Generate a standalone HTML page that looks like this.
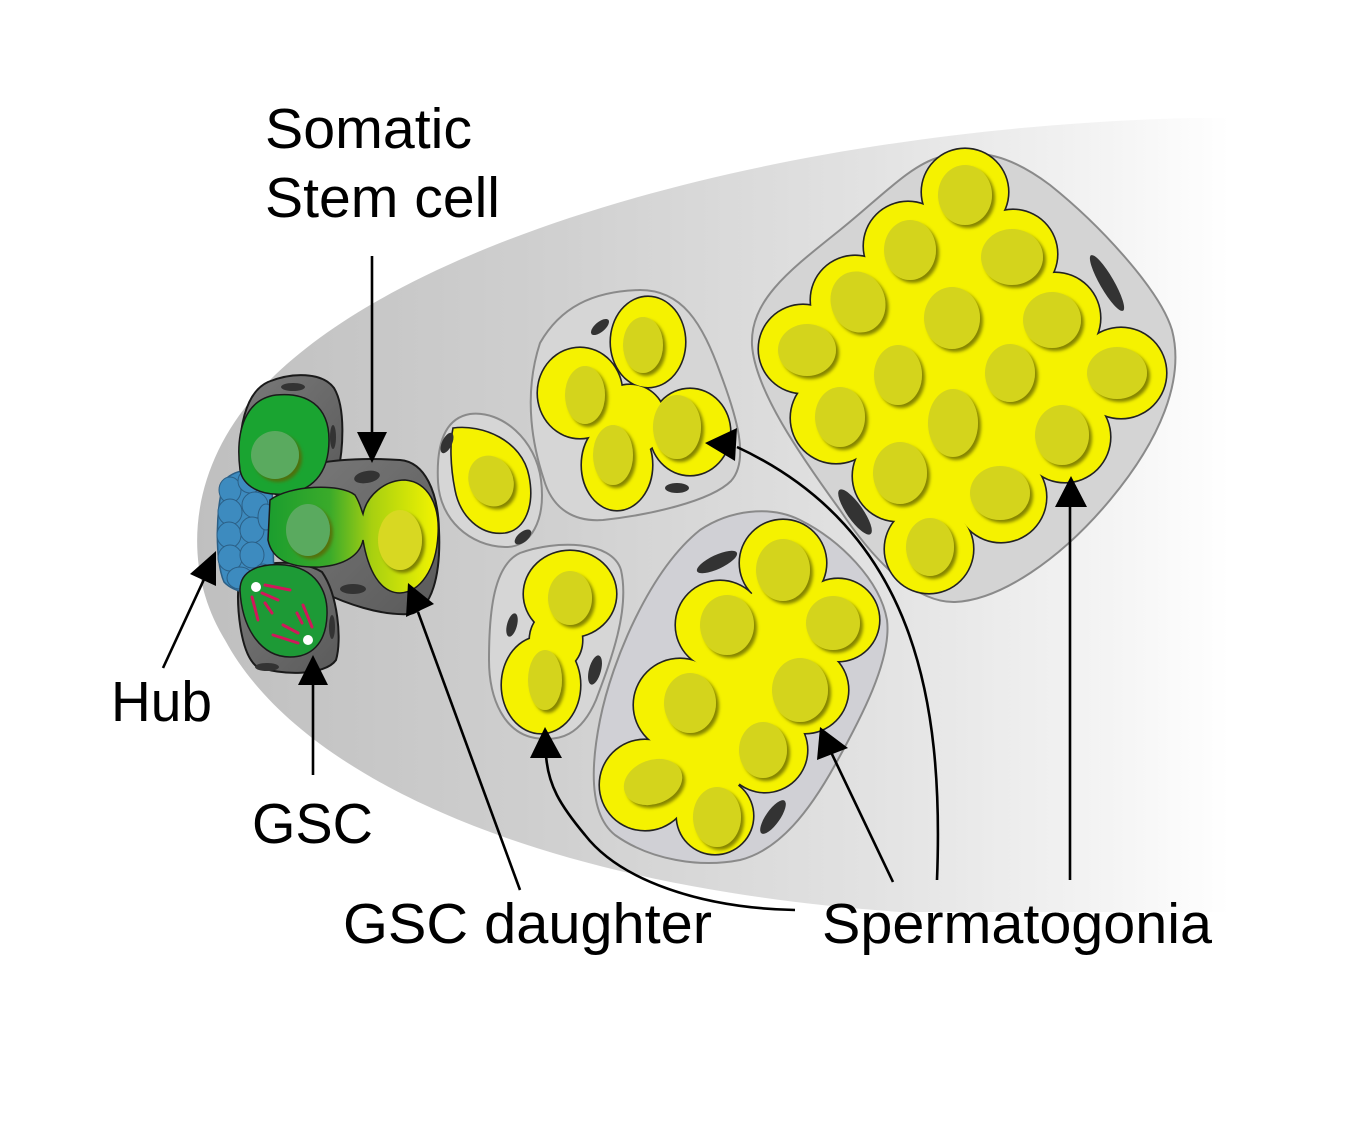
<!DOCTYPE html>
<html>
<head>
<meta charset="utf-8">
<style>
html,body{margin:0;padding:0;background:#fff;}
body{width:1357px;height:1129px;overflow:hidden;}
svg{display:block;}
text{font-family:"Liberation Sans",Arial,sans-serif;font-size:57px;fill:#000;}
</style>
</head>
<body>
<svg xmlns="http://www.w3.org/2000/svg" width="1357" height="1129" viewBox="0 0 1357 1129">
<defs>
 <linearGradient id="bg" gradientUnits="userSpaceOnUse" x1="195" y1="0" x2="1230" y2="0">
  <stop offset="0" stop-color="#bfbfbf"/>
  <stop offset="0.35" stop-color="#d0d0d0"/>
  <stop offset="0.65" stop-color="#e2e2e2"/>
  <stop offset="0.87" stop-color="#f3f3f3"/>
  <stop offset="1" stop-color="#ffffff"/>
 </linearGradient>
 <linearGradient id="gy" gradientUnits="userSpaceOnUse" x1="270" y1="0" x2="440" y2="0">
  <stop offset="0" stop-color="#1c9e2e"/>
  <stop offset="0.35" stop-color="#3aaa2a"/>
  <stop offset="0.6" stop-color="#a8d010"/>
  <stop offset="1" stop-color="#f5f500"/>
 </linearGradient>
 <linearGradient id="dg" x1="0" y1="0" x2="1" y2="1">
  <stop offset="0" stop-color="#7a7a7a"/>
  <stop offset="1" stop-color="#5a5a5a"/>
 </linearGradient>
 <filter id="sh" x="-30%" y="-30%" width="170%" height="170%">
  <feDropShadow dx="3" dy="3" stdDeviation="1.5" flood-color="#5e5e00" flood-opacity="0.75"/>
 </filter>
</defs>

<!-- background testis -->
<path d="M 1357,118 L 1190,118 C 800,128 420,230 270,380 C 192,455 176,560 225,640 C 295,770 520,885 900,912 L 1357,912 Z" fill="url(#bg)"/>

<!-- cyst outers -->
<g stroke="#8a8a8a" stroke-width="2">
 <path fill="#d6d6d6" d="M 470,414 C 502,410 536,440 541,480 C 546,520 531,548 505,547 C 470,546 440,520 438,482 C 436,442 446,418 470,414 Z"/>
 <path fill="#d6d6d6" d="M 540,343 C 560,308 592,291 640,290 C 682,290 702,322 721,375 C 736,415 750,460 731,481 C 711,501 650,515 603,520 C 575,522 553,510 544,480 C 534,450 522,398 540,343 Z"/>
 <path fill="#d6d6d6" d="M 520,553 C 555,540 612,540 621,570 C 630,610 611,660 596,700 C 581,735 560,742 535,738 C 505,733 489,700 489,660 C 489,610 494,565 520,553 Z"/>
 <path fill="#d0d0d5" d="M 700,530 C 730,510 770,505 800,520 C 840,540 880,580 887,620 C 892,660 860,720 835,765 C 810,810 780,850 740,860 C 700,868 650,860 615,835 C 590,815 590,770 600,720 C 612,660 650,570 700,530 Z"/>
 <path fill="#d4d4d4" d="M 940,157 C 980,148 1010,155 1050,185 C 1100,225 1160,290 1172,330 C 1185,380 1160,440 1110,500 C 1060,560 1000,600 955,602 C 920,603 880,570 840,510 C 800,455 755,390 752,345 C 750,300 790,270 840,230 C 880,198 910,165 940,157 Z"/>
</g>

<!-- 1-cell yellow -->
<path fill="#f5f200" stroke="#222" stroke-width="1.6" d="M 453,428 C 482,424 522,440 529,476 C 535,506 525,530 505,533 C 480,536 460,516 455,490 C 450,465 450,442 453,428 Z"/>

<!-- 4-cell yellow: stroked then fill -->
<g fill="#f5f200" stroke="#222" stroke-width="3.2">
 <ellipse cx="648" cy="342" rx="37" ry="45"/>
 <ellipse cx="580" cy="393" rx="42" ry="45"/>
 <ellipse cx="690" cy="432" rx="40" ry="43"/>
 <ellipse cx="617" cy="465" rx="35" ry="45"/>
 <circle cx="630" cy="420" r="35"/>
</g>
<g fill="#f5f200">
 <ellipse cx="648" cy="342" rx="37" ry="45"/>
 <ellipse cx="580" cy="393" rx="42" ry="45"/>
 <ellipse cx="690" cy="432" rx="40" ry="43"/>
 <ellipse cx="617" cy="465" rx="35" ry="45"/>
 <circle cx="630" cy="420" r="35"/>
</g>

<!-- 2-cell yellow -->
<g fill="#f5f200" stroke="#222" stroke-width="3.2">
 <ellipse cx="570" cy="594" rx="46" ry="43"/>
 <ellipse cx="541" cy="685" rx="39" ry="48"/>
 <ellipse cx="556" cy="640" rx="26" ry="30"/>
</g>
<g fill="#f5f200">
 <ellipse cx="570" cy="594" rx="46" ry="43"/>
 <ellipse cx="541" cy="685" rx="39" ry="48"/>
 <ellipse cx="556" cy="640" rx="26" ry="30"/>
</g>

<!-- 8-cell yellow -->
<g fill="#f5f200" stroke="#222" stroke-width="3.2">
 <circle cx="783" cy="563" r="43"/>
 <circle cx="838" cy="620" r="41"/>
 <circle cx="805" cy="690" r="43"/>
 <circle cx="765" cy="750" r="42"/>
 <circle cx="715" cy="816" r="38"/>
 <circle cx="645" cy="785" r="45"/>
 <circle cx="680" cy="705" r="46"/>
 <circle cx="720" cy="625" r="44"/>
</g>
<g fill="#f5f200">
 <circle cx="783" cy="563" r="43"/>
 <circle cx="838" cy="620" r="41"/>
 <circle cx="805" cy="690" r="43"/>
 <circle cx="765" cy="750" r="42"/>
 <circle cx="715" cy="816" r="38"/>
 <circle cx="645" cy="785" r="45"/>
 <circle cx="680" cy="705" r="46"/>
 <circle cx="720" cy="625" r="44"/>
 <polygon points="783,563 838,620 805,690 765,750 715,816 645,785 680,705 720,625"/>
</g>

<!-- 16-cell yellow -->
<g fill="#f5f200" stroke="#222" stroke-width="3.2">
 <circle cx="965" cy="192" r="43"/>
 <circle cx="1013" cy="254" r="44"/>
 <circle cx="1055" cy="318" r="45"/>
 <circle cx="1121" cy="373" r="45"/>
 <circle cx="1065" cy="437" r="45"/>
 <circle cx="1001" cy="497" r="45"/>
 <circle cx="929" cy="549" r="44"/>
 <circle cx="898" cy="476" r="45"/>
 <circle cx="836" cy="418" r="45"/>
 <circle cx="803" cy="349" r="44"/>
 <circle cx="855" cy="300" r="44"/>
 <circle cx="908" cy="246" r="44"/>
</g>
<g fill="#f5f200">
 <circle cx="965" cy="192" r="43"/>
 <circle cx="1013" cy="254" r="44"/>
 <circle cx="1055" cy="318" r="45"/>
 <circle cx="1121" cy="373" r="45"/>
 <circle cx="1065" cy="437" r="45"/>
 <circle cx="1001" cy="497" r="45"/>
 <circle cx="929" cy="549" r="44"/>
 <circle cx="898" cy="476" r="45"/>
 <circle cx="836" cy="418" r="45"/>
 <circle cx="803" cy="349" r="44"/>
 <circle cx="855" cy="300" r="44"/>
 <circle cx="908" cy="246" r="44"/>
 <polygon points="965,192 1013,254 1055,318 1121,373 1065,437 1001,497 929,549 898,476 836,418 803,349 855,300 908,246"/>
</g>

<!-- yellow nuclei -->
<g fill="#d4d41c" filter="url(#sh)">
 <ellipse cx="491" cy="481" rx="22" ry="26" transform="rotate(-25 491 481)"/>
 <ellipse cx="643" cy="345" rx="20" ry="28"/>
 <ellipse cx="585" cy="395" rx="20" ry="29"/>
 <ellipse cx="677" cy="427" rx="24" ry="32"/>
 <ellipse cx="613" cy="455" rx="20" ry="30"/>
 <ellipse cx="570" cy="598" rx="22" ry="27"/>
 <ellipse cx="545" cy="680" rx="17" ry="30"/>
 <ellipse cx="783" cy="570" rx="27" ry="31"/>
 <ellipse cx="727" cy="625" rx="27" ry="30"/>
 <ellipse cx="833" cy="623" rx="27" ry="27"/>
 <ellipse cx="690" cy="703" rx="26" ry="30"/>
 <ellipse cx="800" cy="690" rx="28" ry="32"/>
 <ellipse cx="763" cy="750" rx="24" ry="28"/>
 <ellipse cx="653" cy="782" rx="30" ry="22" transform="rotate(-20 653 782)"/>
 <ellipse cx="717" cy="817" rx="24" ry="30"/>
 <ellipse cx="965" cy="195" rx="27" ry="30"/>
 <ellipse cx="910" cy="250" rx="26" ry="30"/>
 <ellipse cx="1012" cy="257" rx="31" ry="28"/>
 <ellipse cx="858" cy="302" rx="27" ry="31" transform="rotate(-20 858 302)"/>
 <ellipse cx="952" cy="318" rx="28" ry="31"/>
 <ellipse cx="1052" cy="320" rx="29" ry="28"/>
 <ellipse cx="807" cy="350" rx="29" ry="26"/>
 <ellipse cx="898" cy="375" rx="24" ry="30"/>
 <ellipse cx="1010" cy="373" rx="25" ry="29"/>
 <ellipse cx="1117" cy="373" rx="30" ry="26"/>
 <ellipse cx="840" cy="417" rx="25" ry="30"/>
 <ellipse cx="953" cy="423" rx="25" ry="34"/>
 <ellipse cx="1062" cy="435" rx="27" ry="30"/>
 <ellipse cx="900" cy="473" rx="27" ry="31"/>
 <ellipse cx="1000" cy="493" rx="30" ry="27"/>
 <ellipse cx="930" cy="547" rx="24" ry="29"/>
</g>

<!-- somatic cyst cell nuclei (dark spots) -->
<g fill="#333">
 <ellipse cx="1107" cy="283" rx="7" ry="32" transform="rotate(-30 1107 283)"/>
 <ellipse cx="855" cy="512" rx="8" ry="27" transform="rotate(-35 855 512)"/>
 <ellipse cx="717" cy="562" rx="22" ry="7" transform="rotate(-25 717 562)"/>
 <ellipse cx="773" cy="817" rx="7" ry="20" transform="rotate(35 773 817)"/>
 <ellipse cx="512" cy="625" rx="5" ry="12" transform="rotate(15 512 625)"/>
 <ellipse cx="595" cy="670" rx="6" ry="15" transform="rotate(15 595 670)"/>
 <ellipse cx="447" cy="443" rx="5" ry="11" transform="rotate(25 447 443)"/>
 <ellipse cx="523" cy="537" rx="10" ry="5" transform="rotate(-40 523 537)"/>
 <ellipse cx="600" cy="327" rx="11" ry="5" transform="rotate(-40 600 327)"/>
 <ellipse cx="677" cy="488" rx="12" ry="5"/>
</g>

<!-- ===== Niche ===== -->
<g fill="url(#dg)" stroke="#1a1a1a" stroke-width="2">
 <path d="M 242,472 C 236,430 246,392 268,382 C 292,372 322,372 334,388 C 346,408 343,450 338,472 C 320,485 300,495 280,497 Z"/>
 <path d="M 300,468 C 320,461 355,457 400,460 C 425,462 438,492 439,530 C 441,575 432,610 410,614 C 380,616 345,603 322,592 C 300,580 285,560 285,520 Z"/>
 <path d="M 239,578 C 250,560 300,558 322,572 C 338,595 342,640 336,660 C 325,676 280,676 256,666 C 240,652 236,605 239,578 Z"/>
</g>
<g fill="#333">
 <ellipse cx="293" cy="387" rx="12" ry="4"/>
 <ellipse cx="333" cy="437" rx="3" ry="12"/>
 <ellipse cx="367" cy="477" rx="13" ry="6" transform="rotate(-10 367 477)"/>
 <ellipse cx="353" cy="589" rx="13" ry="5"/>
 <ellipse cx="267" cy="667" rx="12" ry="4"/>
 <ellipse cx="332" cy="627" rx="3" ry="12"/>
</g>

<!-- hub -->
<path d="M 225,480 C 235,468 262,466 272,478 L 274,590 C 260,596 235,594 224,582 C 214,560 216,500 225,480 Z" fill="#3d8bbf" stroke="#2b5f86" stroke-width="1.5"/>
<g fill="#3d8bbf" stroke="#2b5f86" stroke-width="1">
 <ellipse cx="230" cy="490" rx="11" ry="13"/>
 <ellipse cx="250" cy="481" rx="12" ry="12"/>
 <ellipse cx="230" cy="512" rx="12" ry="13"/>
 <ellipse cx="255" cy="505" rx="13" ry="13"/>
 <ellipse cx="229" cy="535" rx="12" ry="13"/>
 <ellipse cx="252" cy="530" rx="12" ry="13"/>
 <ellipse cx="266" cy="517" rx="8" ry="13"/>
 <ellipse cx="230" cy="558" rx="12" ry="13"/>
 <ellipse cx="252" cy="555" rx="12" ry="13"/>
 <ellipse cx="240" cy="578" rx="13" ry="11"/>
 <ellipse cx="263" cy="575" rx="9" ry="11"/>
</g>

<!-- green cells -->
<path d="M 240,470 C 235,430 246,399 276,395 C 306,392 329,405 329,440 C 329,476 310,491 285,494 C 260,496 243,486 240,470 Z" fill="#1aa431" stroke="#1a1a1a" stroke-width="1.5"/>
<path d="M 270,500 C 290,485 340,483 355,495 C 360,503 361,509 363,514 C 367,495 385,480 405,480 C 428,482 440,505 438,535 C 436,570 420,592 400,593 C 380,593 368,570 363,540 C 360,555 345,565 320,567 C 290,568 272,560 268,540 Z" fill="url(#gy)" stroke="#1a1a1a" stroke-width="1.5"/>
<path d="M 240,590 C 240,570 260,563 285,565 C 315,568 328,590 327,615 C 326,645 310,657 290,657 C 262,657 242,630 240,590 Z" fill="#1d9a36" stroke="#1a1a1a" stroke-width="1.5"/>

<g filter="url(#sh)">
 <ellipse cx="275" cy="455" rx="24" ry="24" fill="#5aaa5e"/>
 <ellipse cx="308" cy="530" rx="22" ry="26" fill="#5aaa5e"/>
 <ellipse cx="400" cy="540" rx="22" ry="30" fill="#d8d820"/>
</g>

<!-- spindle -->
<g stroke="#d0185a" stroke-width="3" stroke-linecap="round" fill="none">
 <path d="M 265,585 L 290,590"/>
 <path d="M 262,593 L 278,600"/>
 <path d="M 252,597 L 258,620"/>
 <path d="M 265,603 L 272,613"/>
 <path d="M 303,605 L 312,627"/>
 <path d="M 297,613 L 302,623"/>
 <path d="M 283,625 L 298,633"/>
 <path d="M 273,635 L 298,643"/>
</g>
<circle cx="256" cy="587" r="5" fill="#fff"/>
<circle cx="308" cy="640" r="5" fill="#fff"/>

<!-- ===== Arrows ===== -->
<g stroke="#000" stroke-width="2.6" fill="none">
 <line x1="372" y1="256" x2="372" y2="436"/>
 <line x1="163" y1="668" x2="206" y2="575"/>
 <line x1="313" y1="775" x2="313" y2="683"/>
 <line x1="520" y1="890" x2="418" y2="612"/>
 <path d="M 795,910 C 700,908 620,880 585,835 C 560,805 548,785 546,755"/>
 <line x1="893" y1="882" x2="830" y2="750"/>
 <path d="M 937,880 C 944,700 915,530 737,447"/>
 <line x1="1070" y1="880" x2="1070" y2="505"/>
</g>
<g fill="#000">
 <polygon points="357,432 387,432 372,463"/>
 <polygon points="216,551 216,586 190,574"/>
 <polygon points="298,685 328,685 313,655"/>
 <polygon points="408,583 434,604 406,617"/>
 <polygon points="530,758 562,758 545,727"/>
 <polygon points="820,727 848,748 817,760"/>
 <polygon points="705,443 737,428 735,461"/>
 <polygon points="1055,507 1087,507 1071,476"/>
</g>

<!-- ===== Labels ===== -->
<text x="265" y="148" textLength="207" lengthAdjust="spacingAndGlyphs">Somatic</text>
<text x="265" y="217" textLength="235" lengthAdjust="spacingAndGlyphs">Stem cell</text>
<text x="111" y="721" textLength="101" lengthAdjust="spacingAndGlyphs">Hub</text>
<text x="252" y="843" textLength="121" lengthAdjust="spacingAndGlyphs">GSC</text>
<text x="343" y="943" textLength="369" lengthAdjust="spacingAndGlyphs">GSC daughter</text>
<text x="822" y="943" textLength="390" lengthAdjust="spacingAndGlyphs">Spermatogonia</text>
</svg>
</body>
</html>
